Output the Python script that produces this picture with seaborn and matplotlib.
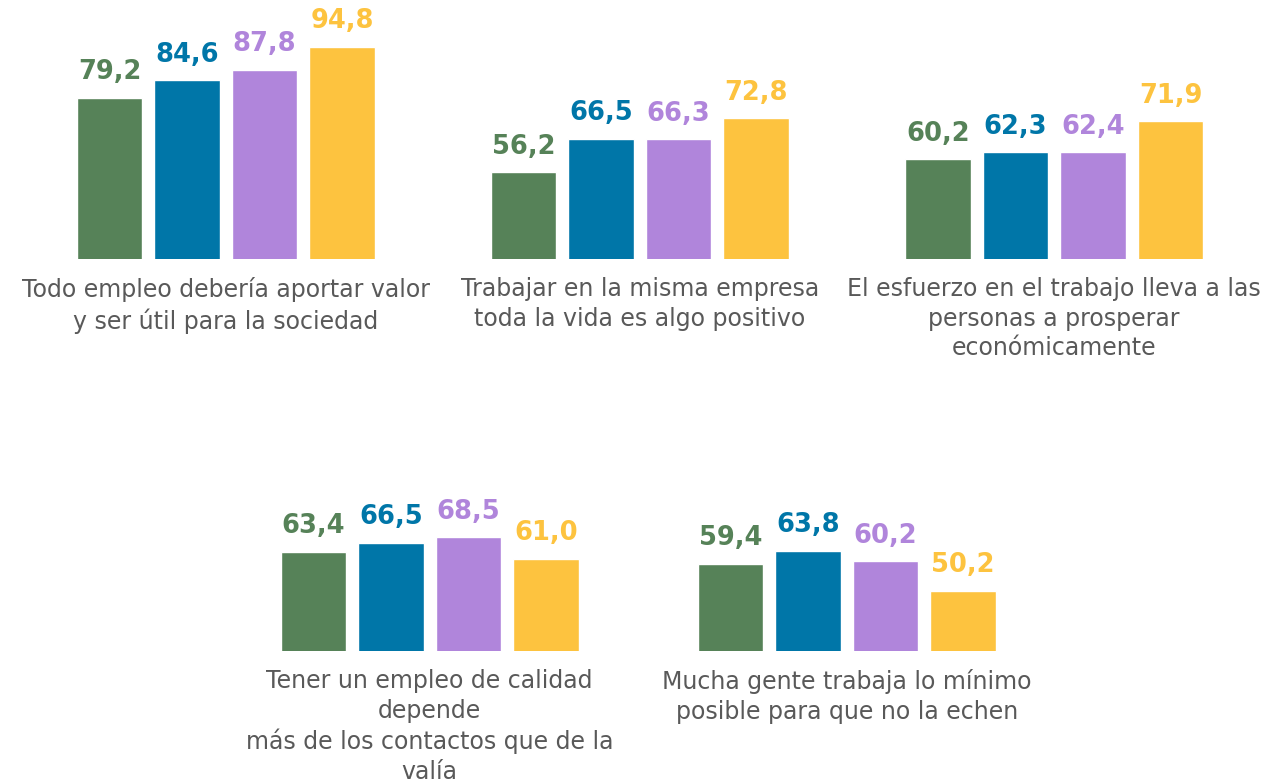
import pandas as pd
import matplotlib
matplotlib.use("Agg")
import matplotlib.pyplot as plt
import seaborn as sns

# datos
grupos = ["G1", "G2", "G3", "G4"]
colores = ["#568258", "#0076A8", "#B085DB", "#FDC33F"]

afirmaciones = [
    "Todo empleo debería aportar valor\ny ser útil para la sociedad",
    "Trabajar en la misma empresa\ntoda la vida es algo positivo",
    "El esfuerzo en el trabajo lleva a las\npersonas a prosperar\neconómicamente",
    "Tener un empleo de calidad\ndepende\nmás de los contactos que de la\nvalía",
    "Mucha gente trabaja lo mínimo\nposible para que no la echen",
]
valores = [
    [79.2, 84.6, 87.8, 94.8],
    [56.2, 66.5, 66.3, 72.8],
    [60.2, 62.3, 62.4, 71.9],
    [63.4, 66.5, 68.5, 61.0],
    [59.4, 63.8, 60.2, 50.2],
]

sns.set_style("white")
plt.rcParams["font.family"] = ["DejaVu Sans"]

W, H = 1263, 782
fig = plt.figure(figsize=(W / 100, H / 100), dpi=100)

# posiciones de cada panel en pixeles: izquierda, base, alto
paneles = [
    (70.75, 259, 229),
    (484.75, 259, 229),
    (899.25, 259, 229),
    (274.75, 651, 206),
    (691.75, 651, 206),
]

for i, (izq, base, alto) in enumerate(paneles):
    ax = fig.add_axes([izq / W, (H - base) / H, 310 / W, alto / H])
    df = pd.DataFrame({"grupo": grupos, "valor": valores[i]})
    sns.barplot(data=df, x="grupo", y="valor", hue="grupo", palette=colores,
                width=0.84, legend=False, ax=ax, saturation=1)
    ax.set_ylim(29.5, 100)
    ax.set_xlim(-0.5, 3.5)
    for j, v in enumerate(valores[i]):
        ax.annotate(f"{v:.1f}".replace(".", ","), (j, v), xytext=(0, 9),
                    textcoords="offset points", ha="center", va="bottom",
                    fontsize=18.5, fontweight="bold", color=colores[j])
    ax.annotate(afirmaciones[i], (0.5, 0), xycoords="axes fraction",
                xytext=(0, -13), textcoords="offset points",
                ha="center", va="top", fontsize=17, color="#595959",
                linespacing=1.3)
    ax.set_axis_off()

plt.savefig("out.png", dpi=100)
plt.close()
